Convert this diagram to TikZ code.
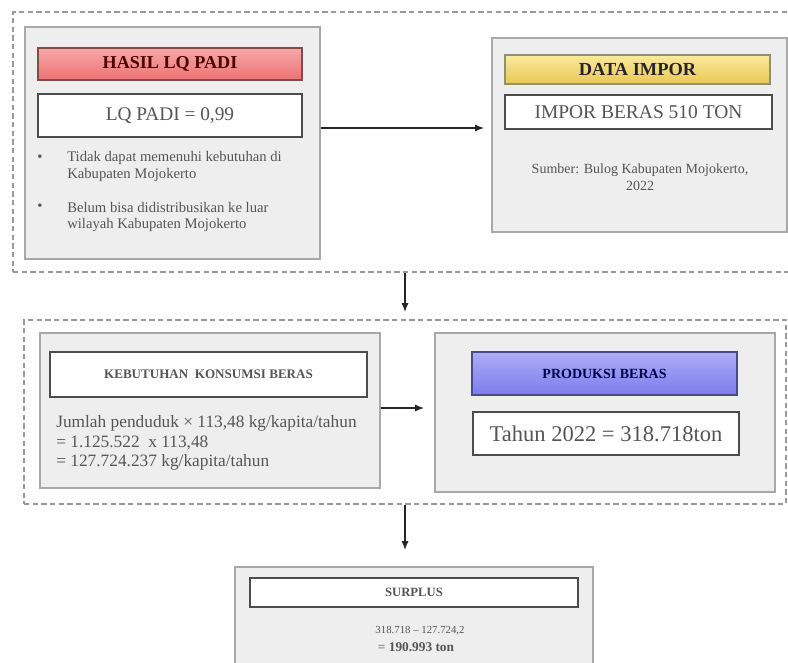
\documentclass[tikz,border=0pt]{standalone}
\usepackage{fontspec}
\setmainfont{Liberation Serif}
\usetikzlibrary{arrows.meta,calc}
\definecolor{boxgray}{HTML}{EEEEEE}
\definecolor{boxline}{HTML}{A8A8A8}
\definecolor{dashline}{HTML}{9A9A9A}
\definecolor{txtgray}{HTML}{555555}
\definecolor{redtop}{HTML}{F8A8A8}
\definecolor{redbot}{HTML}{EC7272}
\definecolor{yeltop}{HTML}{FBEA9C}
\definecolor{yelbot}{HTML}{E8C852}
\definecolor{purtop}{HTML}{ACACF8}
\definecolor{purbot}{HTML}{7C7CEC}
\begin{document}
\begin{tikzpicture}[x=0.75pt,y=-0.75pt,
  graybox/.style={draw=boxline,fill=boxgray,line width=1pt,inner sep=0pt},
  whitebox/.style={draw=black!70,fill=white,line width=0.8pt,inner sep=0pt,text=txtgray},
  dashbox/.style={draw=dashline,dashed,line width=1pt,inner sep=0pt,dash pattern=on 4pt off 2.5pt},
  redbar/.style={draw=red!30!black!70,line width=1pt,top color=redtop,bottom color=redbot,inner sep=0pt,font=\bfseries\fontsize{13.6}{15}\selectfont,text=red!30!black},
  yelbar/.style={draw=yellow!30!black!70,line width=1pt,top color=yeltop,bottom color=yelbot,inner sep=0pt,font=\bfseries\fontsize{13.8}{15}\selectfont,text=black!85},
  purbar/.style={draw=blue!30!black!70,line width=1pt,top color=purtop,bottom color=purbot,inner sep=0pt,font=\bfseries\fontsize{10.5}{12}\selectfont,text=blue!30!black},
  small/.style={font=\fontsize{11}{12}\selectfont,text=txtgray,inner sep=0pt},
  arr/.style={-{Latex[length=7pt,width=5.5pt]},line width=1.5pt,black!85}
]
\useasboundingbox (0,0) rectangle (788,663);
% dashed groups
\node[dashbox,minimum width=790*0.75pt,minimum height=260*0.75pt] (g1) at (408,142) {};
\node[dashbox,minimum width=762*0.75pt,minimum height=184*0.75pt] (g2) at (405,412) {};
% box 1
\node[graybox,minimum width=295*0.75pt,minimum height=232*0.75pt] (b1) at (172.5,143) {};
\node[redbar,minimum width=264*0.75pt,minimum height=32*0.75pt] (t1) at (170,64) {HASIL LQ PADI};
\node[whitebox,minimum width=264*0.75pt,minimum height=43*0.75pt,font=\fontsize{14.5}{16}\selectfont] (v1) at (170,115.5) {LQ PADI = 0,99};
\node[small] (d1) at (40,158) {\textbullet};
\node[small,anchor=west] (l1) at (67,158) {Tidak dapat memenuhi kebutuhan di};
\node[small,anchor=west] (l2) at (67,175) {Kabupaten Mojokerto};
\node[small] (d2) at (40,207) {\textbullet};
\node[small,anchor=west] (l3) at (67,207) {Belum bisa didistribusikan ke luar};
\node[small,anchor=west] (l4) at (67,225) {wilayah Kabupaten Mojokerto};
% box 2
\node[graybox,minimum width=295*0.75pt,minimum height=194*0.75pt] (b2) at (639.5,135) {};
\node[yelbar,minimum width=265*0.75pt,minimum height=29*0.75pt] (t2) at (637.5,69.5) {DATA IMPOR};
\node[whitebox,minimum width=267*0.75pt,minimum height=34*0.75pt,font=\fontsize{14.6}{16}\selectfont] (v2) at (638.5,112) {IMPOR BERAS 510 TON};
\node[small,align=center,font=\fontsize{10.5}{13}\selectfont] (s2) at (640,177) {Sumber: Bulog Kabupaten Mojokerto,\\2022};
% arrow 1
\coordinate (a1) at (400,128);
\draw[arr] (b1.east |- a1) -- ([xshift=-5.25pt]b2.west |- a1);
% down arrow 1
\coordinate (a2) at (405,300);
\draw[arr] (g1.south -| a2) -- ([yshift=5.25pt]g2.north -| a2);
% box 3
\node[graybox,minimum width=340*0.75pt,minimum height=155*0.75pt] (b3) at (210,410.5) {};
\node[whitebox,minimum width=317*0.75pt,minimum height=45*0.75pt,font=\bfseries\fontsize{9.8}{11}\selectfont] (v3) at (208.5,374.5) {KEBUTUHAN\ \ KONSUMSI BERAS};
\node[small,anchor=west,font=\fontsize{13}{14}\selectfont] (k1) at (56,423) {Jumlah penduduk × 113,48 kg/kapita/tahun};
\node[small,anchor=west,font=\fontsize{13}{14}\selectfont] (k2) at (56,443) {= 1.125.522\ \ x 113,48};
\node[small,anchor=west,font=\fontsize{13}{14}\selectfont] (k3) at (56,462) {= 127.724.237 kg/kapita/tahun};
% box 4
\node[graybox,minimum width=340*0.75pt,minimum height=159*0.75pt] (b4) at (605,412.5) {};
\node[purbar,minimum width=265*0.75pt,minimum height=43*0.75pt] (t4) at (604.5,373.5) {PRODUKSI BERAS};
\node[whitebox,minimum width=266*0.75pt,minimum height=43*0.75pt,font=\fontsize{16.9}{18}\selectfont] (v4) at (606,433.5) {Tahun 2022 = 318.718ton};
% arrow 2
\coordinate (a3) at (400,408);
\draw[arr] (b3.east |- a3) -- ([xshift=-7.5pt]b4.west |- a3);
% down arrow 2
\coordinate (a4) at (405,530);
% box 5
\node[graybox,minimum width=358*0.75pt,minimum height=110*0.75pt] (b5) at (414,622) {};
\draw[arr] (g2.south -| a4) -- ([yshift=12pt]b5.north -| a4);
\node[whitebox,minimum width=328*0.75pt,minimum height=29*0.75pt,font=\bfseries\fontsize{9.5}{10}\selectfont] (v5) at (414,592.5) {SURPLUS};
\node[small,font=\fontsize{8.1}{10}\selectfont] (r1) at (420,631) {318.718 – 127.724,2};
\node[small,font=\fontsize{10}{11}\selectfont] (r2) at (416,647) {= \textbf{190.993 ton}};
\end{tikzpicture}
\end{document}
